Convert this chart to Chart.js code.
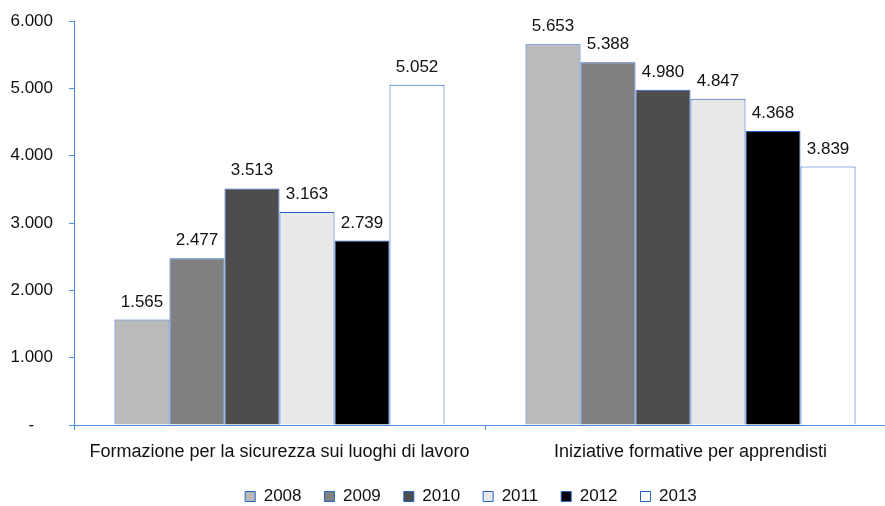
<!DOCTYPE html>
<html>
<head>
<meta charset="utf-8">
<script src="https://cdn.jsdelivr.net/npm/chart.js@4"></script>
<style>
  html, body { margin: 0; padding: 0; background: #fff; overflow: hidden; }
  #wrap { width: 898px; height: 506px; }
</style>
</head>
<body>
<div id="wrap"><canvas id="corsi"></canvas></div>
<script>
const categories = ['Formazione per la sicurezza sui luoghi di lavoro', 'Iniziative formative per apprendisti'];
const years = ['2008', '2009', '2010', '2011', '2012', '2013'];

// one array per year: [sicurezza, apprendisti]
const v2008 = [1565, 5653];
const v2009 = [2477, 5388];
const v2010 = [3513, 4980];
const v2011 = [3163, 4847];
const v2012 = [2739, 4368];
const v2013 = [5052, 3839];

const yTicks = [0, 1000, 2000, 3000, 4000, 5000, 6000];

const series = [v2008, v2009, v2010, v2011, v2012, v2013];
const fills = ['#bababa', '#808080', '#4d4d4d', '#e8e8e8', '#000000', '#ffffff'];
const barEdge = '#2363c2';
const axisBlue = '#4a8ee0';

// 1565 -> "1.565"
function fmt(v) {
    return String(v).replace(/\B(?=(\d{3})+(?!\d))/g, '.');
}

Chart.defaults.font.family = 'Arial, "Liberation Sans", sans-serif';
Chart.defaults.font.size = 17;
Chart.defaults.color = '#111';

// value printed above every bar
const valueLabels = {
    id: 'valueLabels',
    afterDatasetsDraw(chart) {
        const ctx = chart.ctx;
        ctx.save();
        ctx.font = '17px Arial, "Liberation Sans", sans-serif';
        ctx.fillStyle = '#111';
        ctx.textAlign = 'center';
        ctx.textBaseline = 'alphabetic';
        chart.data.datasets.forEach((ds, i) => {
            chart.getDatasetMeta(i).data.forEach((bar, j) => {
                ctx.fillText(fmt(ds.data[j]), bar.x, bar.y - 13);
            });
        });
        ctx.restore();
    }
};

// legend sits a bit right of the canvas centre
const legendNudge = {
    id: 'legendNudge',
    afterLayout(chart) {
        const lg = chart.legend;
        lg.left += 23;
        lg.right += 23;
    }
};

new Chart(document.getElementById('corsi'), {
    type: 'bar',
    data: {
        labels: categories,
        datasets: years.map((y, i) => ({
            label: y,
            data: series[i],
            backgroundColor: fills[i],
            borderColor: barEdge,
            borderWidth: 1,
            borderSkipped: 'bottom',
            categoryPercentage: 0.803,
            barPercentage: 1.0
        }))
    },
    options: {
        responsive: true,
        maintainAspectRatio: false,
        animation: false,
        layout: { padding: { top: 21, left: 0, right: 2, bottom: -9 } },
        plugins: {
            tooltip: { enabled: false },
            legend: {
                position: 'bottom',
                labels: {
                    boxWidth: 10,
                    boxHeight: 10,
                    padding: 23,
                    color: '#111',
                    font: { size: 17 }
                }
            }
        },
        scales: {
            x: {
                grid: {
                    display: true,
                    drawOnChartArea: false,
                    drawTicks: true,
                    tickLength: 5,
                    color: axisBlue
                },
                border: { color: axisBlue, width: 1 },
                ticks: { padding: 11, maxRotation: 0, autoSkip: false, font: { size: 18 } },
                afterFit: (s) => { s.height = 40; }
            },
            y: {
                min: 0,
                max: 6000,
                afterBuildTicks: (s) => { s.ticks = yTicks.map(v => ({ value: v })); },
                grid: {
                    display: true,
                    drawOnChartArea: false,
                    drawTicks: true,
                    tickLength: 5,
                    color: axisBlue
                },
                border: { color: axisBlue, width: 1 },
                ticks: {
                    padding: 16,
                    callback: (v) => v === 0 ? '-    ' : fmt(v)
                },
                afterFit: (s) => {
                    s.width = 74;
                    s.paddingTop = 0;
                    s.paddingBottom = 0;
                }
            }
        }
    },
    plugins: [valueLabels, legendNudge]
});
</script>
</body>
</html>
